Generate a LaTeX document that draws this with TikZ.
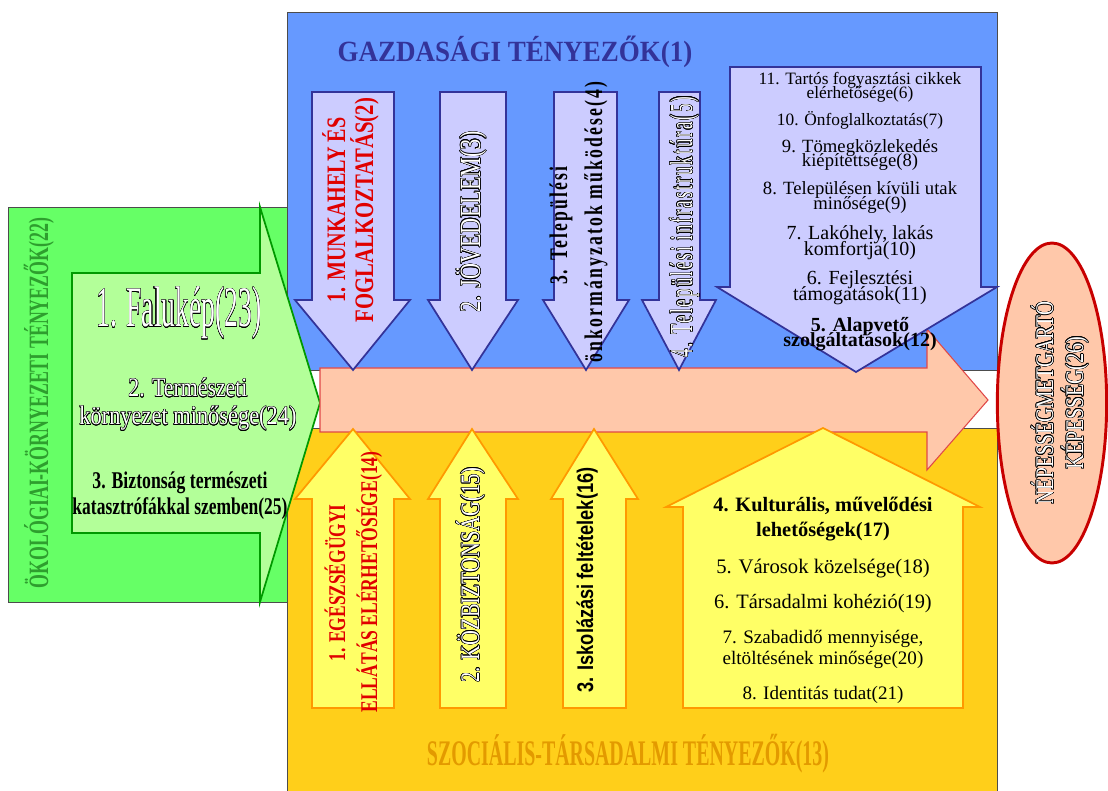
\documentclass[tikz,border=0pt]{standalone}
\usepackage{fontspec}
\setmainfont{Liberation Serif}
\newfontfamily\sansf{Liberation Sans}
\newfontfamily\spacedf[LetterSpace=12]{Liberation Serif}
\usepackage{xcolor}
\usepackage{graphicx}
\usepackage{contour}
\usepackage{tikz}
\usetikzlibrary{shapes.geometric}

\definecolor{gazda}{HTML}{6699FF}
\definecolor{lav}{HTML}{CCCCFF}
\definecolor{navy}{HTML}{333399}
\definecolor{szoc}{HTML}{FFCF1A}
\definecolor{lemon}{HTML}{FFFF66}
\definecolor{orangeline}{HTML}{FF9900}
\definecolor{szocorange}{HTML}{E39A00}
\definecolor{zold}{HTML}{66FF66}
\definecolor{lightgreen}{HTML}{B3FF99}
\definecolor{darkgreen}{HTML}{009900}
\definecolor{greentext}{HTML}{2E9E2E}
\definecolor{salmon}{HTML}{FFC8AA}
\definecolor{salmonline}{HTML}{E04848}
\definecolor{ellred}{HTML}{C80000}
\definecolor{redtext}{HTML}{E00000}

\contourlength{0.45pt}
\newlength\pxu
\setlength\pxu{0.75pt}
\newcommand\fitw[2]{\resizebox{#1\pxu}{\height}{#2}}
\newcommand\outl[1]{\textcolor{white}{\contour{black}{#1}}}
\newcommand\fsz[1]{\fontsize{#1}{#1}\selectfont}

\begin{document}
\begin{tikzpicture}[x=0.75pt,y=-0.75pt]
			\tikzstyle{panel}=[draw=black!70, line width=0.6pt]
			\tikzstyle{lavarrow}=[fill=lav, draw=navy, line width=1.3pt, line join=miter]
			\tikzstyle{lemonarrow}=[fill=lemon, draw=orangeline, line width=1.3pt, line join=miter]
			\tikzstyle{txt}=[inner sep=0pt, anchor=base]
			\tikzstyle{vtxt}=[inner sep=0pt, anchor=base, rotate=90]
			
			\useasboundingbox (0,0) rectangle (1108,791);
			
			% panels
			\draw[panel, fill=gazda] (287,12) rectangle (997,370);
			\draw[panel, fill=szoc] (287,428) rectangle (997,800);
			\draw[panel, fill=zold] (8,207) rectangle (287,602);
			\draw[fill=lightgreen, draw=darkgreen, line width=1.3pt] (72,273) -- (260,273) -- (260,207) -- (320,403) -- (260,602) -- (260,533) -- (72,533) -- cycle;
			
			% main arrow
			\draw[fill=salmon, draw=salmonline, line width=0.8pt] (320,368) -- (927,368) -- (927,329) -- (988,400) -- (927,470) -- (927,432) -- (320,432) -- cycle;
			
			% down arrows
			\draw[lavarrow] (312,92) -- (394,92) -- (394,300) -- (410,300) -- (353,370) -- (295,300) -- (312,300) -- cycle;
			\draw[lavarrow] (440,92) -- (506,92) -- (506,300) -- (518,300) -- (472,370) -- (428,300) -- (440,300) -- cycle;
			\draw[lavarrow] (554,92) -- (617,92) -- (617,300) -- (629,300) -- (586,370) -- (543,300) -- (554,300) -- cycle;
			\draw[lavarrow] (659,92) -- (700,92) -- (700,300) -- (716,300) -- (679,370) -- (642,300) -- (659,300) -- cycle;
			\draw[lavarrow] (730,67) -- (981,67) -- (981,287) -- (997,287) -- (856,372) -- (717,287) -- (730,287) -- cycle;
			
			% up arrows
			\draw[lemonarrow] (312,708) -- (394,708) -- (394,499) -- (410,499) -- (353,429) -- (295,499) -- (312,499) -- cycle;
			\draw[lemonarrow] (440,708) -- (506,708) -- (506,499) -- (518,499) -- (472,429) -- (428,499) -- (440,499) -- cycle;
			\draw[lemonarrow] (563,708) -- (626,708) -- (626,499) -- (638,499) -- (594,429) -- (551,499) -- (563,499) -- cycle;
			\draw[lemonarrow] (683,708) -- (963,708) -- (963,507) -- (980,507) -- (823,428) -- (666,507) -- (683,507) -- cycle;
			
			% titles
			\node[txt, text=navy, font=\fsz{22}\bfseries] (gazdasagi) at (515,62) {\fitw{355}{GAZDASÁGI TÉNYEZŐK(1)}};
			\node[txt, text=szocorange, font=\fsz{27}\bfseries] (szocialis) at (628,766) {\fitw{402}{SZOCIÁLIS-TÁRSADALMI TÉNYEZŐK(13)}};
			\node[vtxt, text=greentext, font=\fsz{21}\bfseries] (okologiai) at (48,403) {\fitw{370}{ÖKOLÓGIAI-KÖRNYEZETI TÉNYEZŐK(22)}};
			
			% green arrow
			\node[txt, font=\fsz{43}] (falukep) at (179,327) {\fitw{165}{\outl{1. Falukép(23)}}};
			\node[txt, font=\fsz{20}] (termA) at (188,397) {\fitw{119}{\outl{2. Természeti}}};
			\node[txt, font=\fsz{20}] (termB) at (188,425) {\fitw{217}{\outl{környezet minősége(24)}}};
			\node[txt, font=\fsz{18}\bfseries] (bizA) at (180,489) {\fitw{175}{3. Biztonság természeti}};
			\node[txt, font=\fsz{18}\bfseries] (bizB) at (180,515) {\fitw{215}{katasztrófákkal szemben(25)}};
			
			% blue arrows
			\node[vtxt, text=redtext, font=\fsz{20}\bfseries] (munkaA) at (345,210) {\fitw{185}{1. MUNKAHELY ÉS}};
			\node[vtxt, text=redtext, font=\fsz{20}\bfseries] (munkaB) at (373,210) {\fitw{224}{FOGLALKOZTATÁS(2)}};
			\node[vtxt, font=\fsz{22}] (jovedelem) at (480,222) {\fitw{181}{\outl{2. JÖVEDELEM(3)}}};
			\node[vtxt, font=\fsz{19}\spacedf\bfseries] (onkA) at (567,226) {\fitw{118}{3. Települési}};
			\node[vtxt, font=\fsz{19}\spacedf\bfseries] (onkB) at (602,222) {\fitw{281}{önkormányzatok működése(4)}};
			\node[vtxt, font=\fsz{24}\spacedf] (infra) at (692,227) {\fitw{261}{\outl{4. Települési infrastruktúra(5)}}};
			
			\node[txt, font=\fsz{13}] (cikkA) at (860,85) {11. Tartós fogyasztási cikkek};
			\node[txt, font=\fsz{13}] (cikkB) at (860,99) {elérhetősége(6)};
			\node[txt, font=\fsz{13}] (onfogl) at (860,126) {10. Önfoglalkoztatás(7)};
			\node[txt, font=\fsz{14}] (tomegA) at (860,153) {9. Tömegközlekedés};
			\node[txt, font=\fsz{14}] (tomegB) at (860,167) {kiépítettsége(8)};
			\node[txt, font=\fsz{14}] (utakA) at (860,195) {8. Településen kívüli utak};
			\node[txt, font=\fsz{14}] (utakB) at (860,210) {minősége(9)};
			\node[txt, font=\fsz{15}] (lakasA) at (860,240) {7. Lakóhely, lakás};
			\node[txt, font=\fsz{15}] (lakasB) at (860,256) {komfortja(10)};
			\node[txt, font=\fsz{15}] (fejlA) at (860,285) {6. Fejlesztési};
			\node[txt, font=\fsz{15}] (fejlB) at (860,301) {támogatások(11)};
			\node[txt, font=\fsz{15}\bfseries] (alapA) at (860,332) {5. Alapvető};
			\node[txt, font=\fsz{15}\bfseries] (alapB) at (860,347) {szolgáltatások(12)};
			
			% yellow arrows
			\node[vtxt, text=redtext, font=\fsz{18}\bfseries] (egeszA) at (345,583) {\fitw{157}{1. EGÉSZSÉGÜGYI}};
			\node[vtxt, text=redtext, font=\fsz{18}\bfseries] (egeszB) at (377,582) {\fitw{261}{ELLÁTÁS ELÉRHETŐSÉGE(14)}};
			\node[vtxt, font=\fsz{20}] (kozbiz) at (479,575) {\fitw{215}{\outl{2. KÖZBIZTONSÁG(15)}}};
			\node[vtxt, font=\fsz{17}\sansf\bfseries] (iskola) at (593,580) {\fitw{225}{3. Iskolázási feltételek(16)}};
			
			\node[txt, font=\fsz{15.3}\bfseries] (kultA) at (823,512) {4. Kulturális, művelődési};
			\node[txt, font=\fsz{15.3}\bfseries] (kultB) at (823,537) {lehetőségek(17)};
			\node[txt, font=\fsz{15.5}] (varos) at (823,574) {5. Városok közelsége(18)};
			\node[txt, font=\fsz{15.3}] (kohezio) at (823,609) {6. Társadalmi kohézió(19)};
			\node[txt, font=\fsz{14.3}] (szabA) at (823,643) {7. Szabadidő mennyisége,};
			\node[txt, font=\fsz{14.3}] (szabB) at (823,665) {eltöltésének minősége(20)};
			\node[txt, font=\fsz{14.3}] (identitas) at (823,700) {8. Identitás tudat(21)};
			
			% result
			\node[ellipse, draw=ellred, line width=2.2pt, fill=salmon, minimum width=82pt, minimum height=240pt, inner sep=0pt] (kepesseg) at (1052,403) {};
			\node[vtxt, font=\fsz{19}] (nepA) at (1053,403) {\fitw{203}{\outl{NÉPESSÉGMETGARTÓ}}};
			\node[vtxt, font=\fsz{19}] (nepB) at (1083,403) {\fitw{133}{\outl{KÉPESSÉG(26)}}};
\end{tikzpicture}
\end{document}
